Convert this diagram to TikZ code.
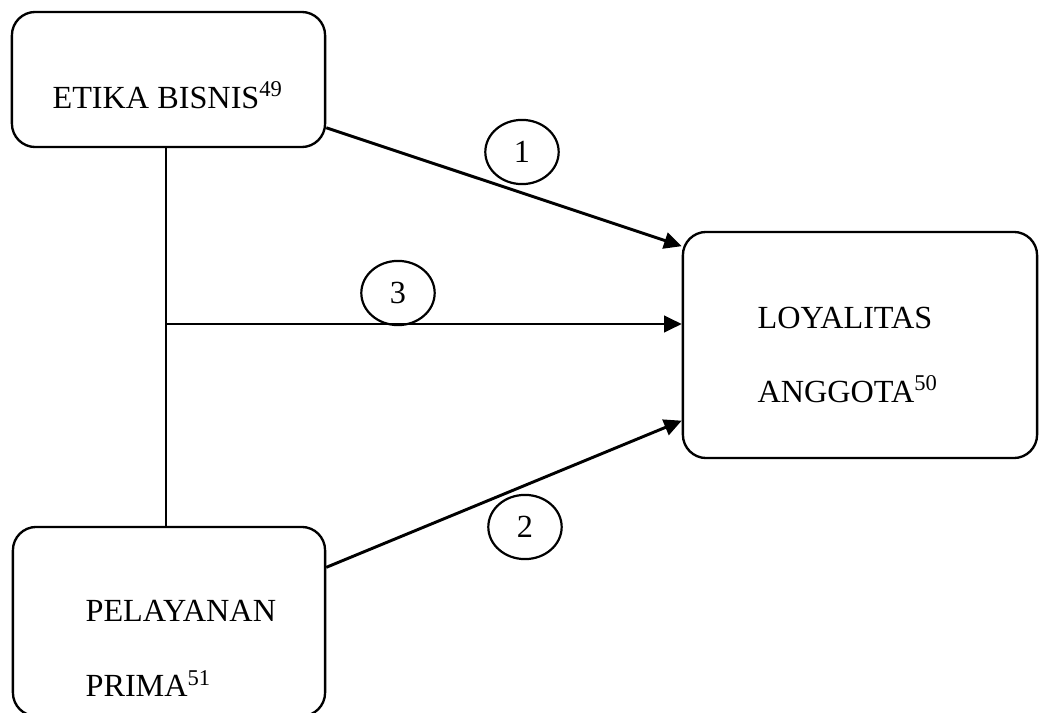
\documentclass[tikz,border=0pt]{standalone}
\usepackage{fontspec}
\setmainfont{Liberation Serif}
\usepackage{tikz}
\usetikzlibrary{arrows.meta,shapes.geometric}

\tikzset{
  varbox/.style={draw,line width=0.8pt,rounded corners=0.28cm,inner sep=0pt},
  numcircle/.style={draw,ellipse,line width=0.75pt,minimum width=0.88cm,minimum height=0.77cm,inner sep=0pt},
  boxtext/.style={anchor=base west,inner sep=0pt},
  effect/.style={-{Triangle[length=6pt,width=5.6pt]},line width=1pt}
}

\begin{document}
\begin{tikzpicture}[x=0.012cm,y=-0.012cm,font=\fontsize{11}{13}\selectfont]
\useasboundingbox (0,0) rectangle (1039,713);

% variables
\node[varbox,minimum width=3.756cm,minimum height=1.62cm] (etika) at (168.5,79.5) {};
\node[varbox,minimum width=3.744cm,minimum height=2.268cm] (pelayanan) at (169,621.5) {};
\node[varbox,minimum width=4.248cm,minimum height=2.712cm] (loyal) at (860,345) {};

\node[boxtext] (etikaA) at (52,108) {ETIKA BISNIS\textsuperscript{49}};
\node[boxtext] (pelayananA) at (85,622) {PELAYANAN};
\node[boxtext] (pelayananB) at (85,697) {PRIMA\textsuperscript{51}};
\node[boxtext] (loyalA) at (757,329) {LOYALITAS};
\node[boxtext] (loyalB) at (757,402) {ANGGOTA\textsuperscript{50}};

% join of the two variables
\coordinate (join) at (166,324);
\draw[line width=0.8pt] (etika.south -| join) -- (pelayanan.north -| join);

% effects
\draw[effect] (etika.-17) -- (loyal.151);
\draw[effect] (pelayanan.19) -- (loyal.203);
\draw[effect] (join) -- (join -| loyal.west);

\node[numcircle] (one) at (522,152) {1};
\node[numcircle] (two) at (525,527) {2};
\node[numcircle] (three) at (398,293) {3};

\end{tikzpicture}
\end{document}
